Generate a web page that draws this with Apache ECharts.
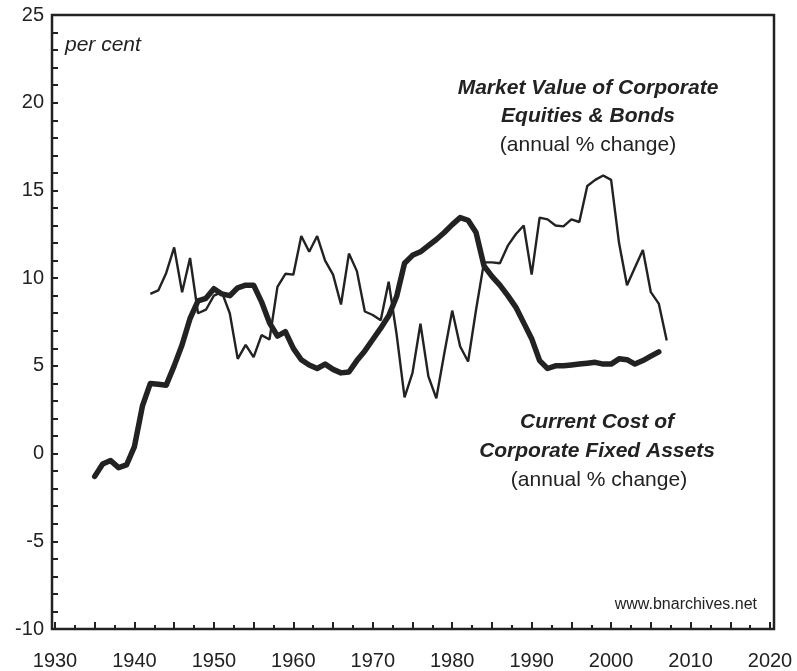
<!DOCTYPE html>
<html>
<head>
<meta charset="utf-8">
<script src="https://cdn.jsdelivr.net/npm/echarts@6/dist/echarts.min.js"></script>
<style>
  html, body { margin: 0; padding: 0; background: #fff; }
  #chart { width: 797px; height: 671px; }
</style>
</head>
<body>
<div id="chart"></div>
<script>
// annual % change
const costStart = 1935
const costValues = [
  -1.3, -0.6, -0.4, -0.8, -0.65, 0.4, 2.7, 4.0, 3.95, 3.9,
  5.0, 6.2, 7.7, 8.7, 8.85, 9.4, 9.1, 9.0, 9.45, 9.6,
  9.6, 8.65, 7.45, 6.7, 6.95, 6.0, 5.35, 5.05, 4.85, 5.1,
  4.8, 4.6, 4.65, 5.3, 5.85, 6.5, 7.15, 7.85, 8.95, 10.85,
  11.3, 11.5, 11.85, 12.2, 12.6, 13.05, 13.45, 13.3, 12.6, 10.7,
  10.1, 9.6, 9.0, 8.35, 7.45, 6.55, 5.3, 4.85, 5.0, 5.0,
  5.05, 5.1, 5.15, 5.2, 5.1, 5.1, 5.4, 5.35, 5.1, 5.3,
  5.55, 5.8
]

const marketStart = 1942
const marketValues = [
  9.1, 9.3, 10.3, 11.75, 9.2, 11.15, 8.0, 8.2, 9.0, 9.2,
  8.0, 5.4, 6.2, 5.5, 6.75, 6.5, 9.5, 10.25, 10.2, 12.4,
  11.5, 12.4, 11.0, 10.2, 8.5, 11.4, 10.4, 8.1, 7.9, 7.6,
  9.8, 6.8, 3.2, 4.6, 7.4, 4.4, 3.15, 5.7, 8.15, 6.1,
  5.25, 8.2, 10.9, 10.9, 10.85, 11.85, 12.5, 13.0, 10.2, 13.45,
  13.35, 13.0, 12.95, 13.35, 13.2, 15.25, 15.6, 15.85, 15.6, 12.0,
  9.6, 10.6, 11.6, 9.2, 8.55, 6.45
]

const xLabels = [1930, 1940, 1950, 1960, 1970, 1980, 1990, 2000, 2010, 2020]

const ink = '#222'
const font = 'Liberation Sans, Arial, sans-serif'

const toPairs = (start, values) => values.map((v, i) => [start + i, v])

// note text, anchored by its vertical middle
const note = (text, x, y, weight, align) => ({
  type: 'text',
  x,
  y,
  style: { text, font: weight + ' ' + font, fill: ink, align: align || 'center', verticalAlign: 'middle' }
})

const chart = echarts.init(document.getElementById('chart'))

chart.setOption({
  animation: false,
  grid: { left: 55, right: 27, top: 15, bottom: 42 },
  xAxis: {
    type: 'value',
    min: 1930,
    max: 2020,
    interval: 5,
    axisLine: { show: false, onZero: false },
    axisTick: { show: true, inside: true, length: 7, lineStyle: { color: ink, width: 2 } },
    minorTick: { show: true, splitNumber: 2, length: 4, lineStyle: { color: ink, width: 2 } },
    splitLine: { show: false },
    axisLabel: {
      color: ink,
      fontSize: 20,
      fontFamily: font,
      margin: 22,
      formatter: (v) => (xLabels.includes(v) ? String(v) : '')
    }
  },
  yAxis: {
    type: 'value',
    min: -10,
    max: 25,
    interval: 5,
    offset: 3,
    axisLine: { show: false },
    axisTick: { show: true, inside: true, length: 6, lineStyle: { color: ink, width: 2 } },
    minorTick: { show: true, splitNumber: 5, length: 6, lineStyle: { color: ink, width: 2 } },
    splitLine: { show: false },
    axisLabel: { color: ink, fontSize: 20, fontFamily: font, margin: 8 }
  },
  graphic: [
    {
      type: 'rect',
      shape: { x: 52, y: 15, width: 722, height: 614 },
      style: { fill: 'none', stroke: ink, lineWidth: 2.5 },
      z: 10
    },
    note('per cent', 65, 45, 'italic 21px', 'left'),
    note('Market Value of Corporate', 588, 88, 'italic bold 21px'),
    note('Equities & Bonds', 588, 116, 'italic bold 21px'),
    note('(annual % change)', 588, 145, '21px'),
    note('Current Cost of', 597, 422, 'italic bold 21px'),
    note('Corporate Fixed Assets', 597, 451, 'italic bold 21px'),
    note('(annual % change)', 599, 480, '21px'),
    note('www.bnarchives.net', 757, 605, '16px', 'right')
  ],
  series: [
    {
      name: 'Market Value of Corporate Equities & Bonds',
      type: 'line',
      showSymbol: false,
      data: toPairs(marketStart, marketValues),
      lineStyle: { color: ink, width: 2.4 },
      z: 2
    },
    {
      name: 'Current Cost of Corporate Fixed Assets',
      type: 'line',
      showSymbol: false,
      data: toPairs(costStart, costValues),
      lineStyle: { color: ink, width: 5.5, cap: 'round', join: 'round' },
      z: 3
    }
  ]
})
</script>
</body>
</html>
